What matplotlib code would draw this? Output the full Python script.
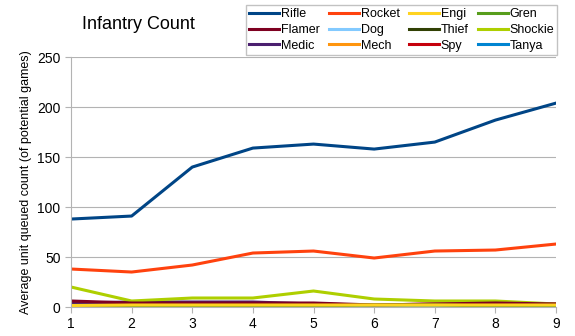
import matplotlib.pyplot as plt

plt.rcParams['font.family'] = ['Liberation Sans', 'DejaVu Sans']

# game position on the x axis
games = [1, 2, 3, 4, 5, 6, 7, 8, 9]

rifle = [88, 91, 140, 159, 163, 158, 165, 187, 204]
rocket = [38, 35, 42, 54, 56, 49, 56, 57, 63]
engi = [1.5, 2, 2, 2, 2, 2, 2, 2, 2]
gren = [0.5, 1, 1, 1, 1, 2, 2, 1, 1]
flamer = [6, 4, 4, 4, 4, 2, 3, 4, 3]
dog = [0, 0, 0, 0, 0, 0, 0, 0, 0]
thief = [0, 0, 0, 0, 0, 0, 0, 0, 0]
shockie = [20, 6, 9, 9, 16, 8, 6, 6, 3]
medic = [4, 5, 5, 5, 3, 1, 2, 2, 2]
mech = [0.5, 0.5, 0.5, 0.5, 0.5, 0.5, 0.5, 0.5, 0.5]
spy = [3, 3, 3, 3, 3, 2, 3, 3, 3]
tanya = [0, 0, 0, 0, 0, 0, 0, 0, 0]

series = [
    ("Rifle", rifle, "#004586"),
    ("Rocket", rocket, "#ff420e"),
    ("Engi", engi, "#ffd320"),
    ("Gren", gren, "#579d1c"),
    ("Flamer", flamer, "#7e0021"),
    ("Dog", dog, "#83caff"),
    ("Thief", thief, "#314004"),
    ("Shockie", shockie, "#aecf00"),
    ("Medic", medic, "#4b1f6f"),
    ("Mech", mech, "#ff950e"),
    ("Spy", spy, "#c5000b"),
    ("Tanya", tanya, "#0084d1"),
]

fig = plt.figure(figsize=(5.75, 3.36), dpi=100)
ax = fig.add_axes([0.1235, 0.0863, 0.8435, 0.7437])

handles = []
# draw in reverse so Rifle/Rocket sit on top
for name, vals, col in reversed(series):
    h, = ax.plot(games, vals, color=col, linewidth=2.2, label=name)
    handles.insert(0, h)

ax.set_xlim(1, 9)
ax.set_ylim(0, 250)
ax.set_xticks(games)
ax.set_yticks(range(0, 251, 50))
ax.grid(axis='y', color='#b3b3b3', linewidth=0.8)
ax.set_axisbelow(True)
for s in ['top', 'right']:
    ax.spines[s].set_visible(False)
for s in ['left', 'bottom']:
    ax.spines[s].set_color('#b3b3b3')
ax.tick_params(colors='#b3b3b3', labelcolor='black', labelsize=10, length=4)
ax.set_ylabel("Average unit queued count (of potential games)", fontsize=9)

# legend is laid out row by row, matplotlib fills columns first
order = [0, 4, 8, 1, 5, 9, 2, 6, 10, 3, 7, 11]
fig.legend([handles[i] for i in order], [series[i][0] for i in order],
           ncol=4, loc='upper left', bbox_to_anchor=(0.428, 0.985, 0.541, 0),
           mode='expand', fontsize=9, frameon=True, fancybox=False,
           edgecolor='#b3b3b3', handlelength=2.4, handletextpad=0.15,
           columnspacing=0.3, labelspacing=0.3, borderpad=0.25,
           borderaxespad=0)

fig.text(0.143, 0.928, "Infantry Count", fontsize=13, va='center')

fig.savefig("out.png")
